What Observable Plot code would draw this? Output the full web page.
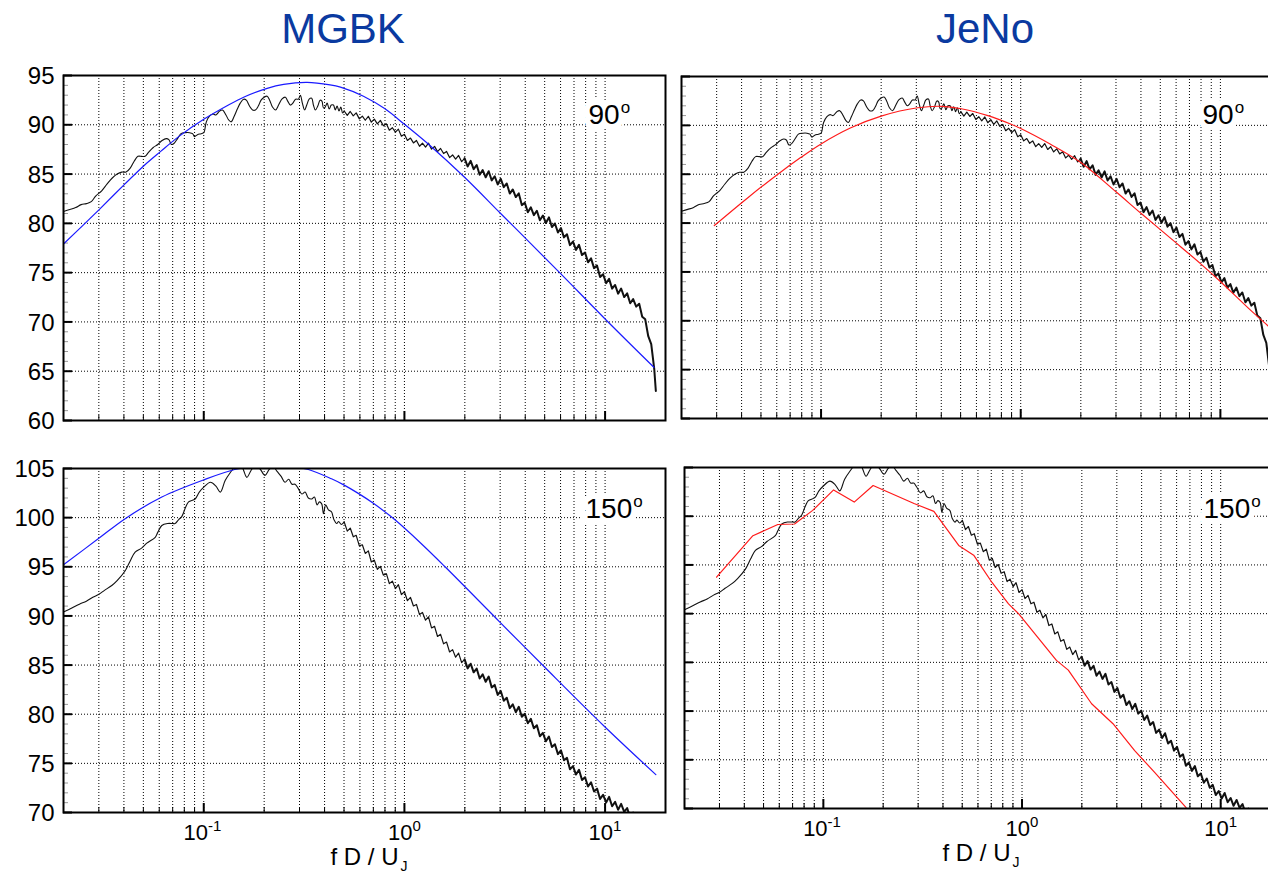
<!DOCTYPE html>
<html><head><meta charset="utf-8">
<script src="https://cdn.jsdelivr.net/npm/d3@7"></script>
<script src="https://cdn.jsdelivr.net/npm/@observablehq/plot@0.6"></script>
<style>
html,body{margin:0;padding:0;background:#fff;overflow:hidden;}
#root{position:relative;width:1268px;height:872px;overflow:hidden;font-family:"Liberation Sans",Arial,sans-serif;}
.panel{position:absolute;}
.panel svg{max-width:none !important;overflow:visible;}
.title{position:absolute;top:8px;font-size:42px;line-height:1;color:#0a3aa0;transform:translateX(-50%);white-space:nowrap;}
</style></head>
<body><div id="root"></div>
<script>
// ---------- data ----------
const titles = ["MGBK", "JeNo"];
const angles = ["90", "150"];
const decades = [0.1, 1, 10];
const decadeExp = ["-1", "0", "1"];
const gridX = [0.02,0.03,0.04,0.05,0.06,0.07,0.08,0.09,0.1,0.2,0.3,0.4,0.5,0.6,0.7,0.8,0.9,1,2,3,4,5,6,7,8,9,10];
const yTicks90 = [60,65,70,75,80,85,90,95];
const yTicks150 = [70,75,80,85,90,95,100,105];

// measured spectrum, 90 deg, low frequencies [f D/Uj, dB]
const black90Lo = [[0.020,81.2],[0.0215,81.4],[0.023,81.6],[0.0245,81.9],[0.026,82.0],[0.0275,82.2],[0.029,82.8],[0.031,83.3],[0.033,84.0],[0.035,84.6],[0.037,85.0],[0.039,85.2],[0.041,85.2],[0.043,85.6],[0.045,86.3],[0.047,86.8],[0.049,86.8],[0.051,86.8],[0.053,87.2],[0.056,87.7],[0.059,88.0],[0.062,88.4],[0.065,88.6],[0.067,88.5],[0.069,88.0],[0.071,88.1],[0.074,88.6],[0.077,89.1],[0.081,89.2],[0.085,89.2],[0.088,89.1],[0.090,88.8],[0.093,89.0],[0.097,89.1],[0.100,89.2],[0.103,90.3],[0.107,90.9],[0.111,91.1],[0.115,91.0],[0.120,91.4],[0.124,91.5],[0.129,91.0],[0.133,90.5],[0.137,90.3],[0.142,90.9],[0.147,91.6],[0.152,92.2],[0.158,92.6],[0.163,92.5],[0.169,91.9],[0.175,91.5],[0.181,91.5],[0.187,91.9],[0.193,92.5],[0.200,92.8],[0.207,92.9],[0.213,92.5],[0.220,91.8],[0.228,91.5],[0.236,92.0],[0.245,92.6],[0.255,92.8],[0.262,92.4],[0.270,92.0],[0.278,92.2],[0.287,92.6],[0.296,92.6],[0.303,93.0],[0.310,92.2],[0.318,91.5],[0.326,92.0],[0.335,92.6],[0.345,92.7],[0.352,92.0],[0.360,91.5],[0.370,91.9],[0.380,92.5],[0.388,92.4],[0.395,91.7],[0.403,91.8],[0.412,92.2],[0.422,91.6],[0.432,92.0],[0.443,92.0],[0.452,91.5],[0.462,91.9],[0.472,91.4],[0.482,91.8],[0.492,91.2]];
// measured spectrum, 150 deg, low frequencies
const black150Lo = [[0.020,90.4],[0.022,90.8],[0.024,91.2],[0.026,91.5],[0.028,91.9],[0.030,92.2],[0.032,92.6],[0.0348,93.1],[0.037,93.6],[0.0406,94.6],[0.043,95.6],[0.0455,96.5],[0.049,96.9],[0.052,97.4],[0.0573,98.0],[0.059,98.5],[0.0618,99.2],[0.066,99.4],[0.070,99.4],[0.072,99.4],[0.075,99.8],[0.0777,100.1],[0.081,101.0],[0.084,101.6],[0.0906,101.9],[0.095,102.6],[0.100,103.1],[0.108,103.6],[0.115,103.2],[0.121,102.6],[0.128,103.8],[0.138,104.8],[0.145,105.4],[0.152,105.6],[0.158,104.8],[0.164,104.1],[0.172,104.8],[0.180,105.3],[0.190,105.0],[0.202,104.3],[0.212,104.9],[0.222,105.2],[0.232,104.7],[0.243,104.2],[0.254,103.6],[0.265,103.9],[0.275,103.4],[0.285,103.4],[0.295,103.0],[0.308,102.4],[0.320,102.6],[0.332,102.0],[0.345,101.9],[0.356,102.1],[0.367,101.3],[0.377,101.6],[0.387,101.4],[0.395,100.4],[0.405,101.3],[0.418,100.8],[0.433,100.6],[0.445,99.8],[0.460,99.4],[0.470,99.6],[0.485,99.3]];
// high-frequency part (noisy), shared frequencies
const freqHi = [0.501,0.519,0.537,0.556,0.575,0.596,0.617,0.638,0.661,0.684,
0.708,0.733,0.759,0.785,0.813,0.841,0.871,0.902,0.933,0.966,
1.000,1.035,1.072,1.109,1.148,1.189,1.230,1.274,1.318,1.365,
1.413,1.462,1.514,1.567,1.622,1.679,1.738,1.799,1.862,1.928,
1.995,2.065,2.138,2.213,2.291,2.371,2.455,2.541,2.630,2.723,
2.818,2.917,3.020,3.126,3.236,3.350,3.467,3.589,3.715,3.846,
3.981,4.121,4.266,4.416,4.571,4.732,4.898,5.070,5.248,5.433,
5.623,5.821,6.026,6.237,6.457,6.683,6.918,7.161,7.413,7.674,
7.943,8.222,8.511,8.810,9.120,9.441,9.772,10.12,10.47,10.84,
11.22,11.61,12.02,12.45,12.88,13.34,13.80,14.29,14.79,15.31,
15.85,16.41,16.98,17.58,17.9];
const lvl90Hi = [91.40,90.95,91.35,90.91,91.21,90.60,90.88,90.46,90.86,90.27,
90.58,90.09,90.45,89.90,90.10,89.45,89.70,89.25,89.56,88.84,
89.03,88.41,88.65,88.16,88.41,87.82,88.13,87.74,88.14,87.53,
87.81,87.28,87.60,87.08,87.30,86.67,86.94,86.52,86.89,86.26,
86.60,85.77,86.34,85.50,85.92,84.93,85.40,84.67,85.29,84.36,
84.78,83.95,84.52,83.67,84.05,83.02,83.44,82.67,83.04,81.85,
82.09,81.12,81.63,80.83,81.28,80.32,80.80,80.03,80.61,79.63,
79.99,79.07,79.53,78.58,78.89,77.79,78.15,77.31,77.82,76.78,
77.05,76.05,76.45,75.46,75.71,74.55,74.84,73.93,74.37,73.38,
73.75,72.87,73.39,72.52,72.90,71.89,72.32,71.55,71.85,70.53,
70.26,68.55,67.75,65.2,63.0];
const lvl150Hi = [99.57,98.63,98.94,98.05,98.20,97.13,97.24,96.36,96.62,95.49,
95.68,94.74,95.04,94.15,94.30,93.29,93.54,92.78,93.18,92.17,
92.46,91.55,91.88,91.01,91.17,90.14,90.35,89.57,89.91,88.78,
88.94,87.91,88.13,87.16,87.34,86.33,86.57,85.80,86.22,85.25,
85.58,84.66,85.14,84.26,84.65,83.63,84.06,83.30,83.83,82.73,
82.98,81.97,82.37,81.37,81.68,80.62,81.01,80.21,80.75,79.74,
80.04,79.08,79.53,78.57,78.87,77.76,78.10,77.24,77.73,76.67,
76.95,75.94,76.33,75.32,75.56,74.39,74.72,73.86,74.35,73.30,
73.59,72.64,73.08,72.13,72.43,71.38,71.80,71.02,71.59,70.64,
71.08,70.28,70.88,70.07,70.45,69.50,70.00,69.30,69.60];
// MGBK predictions
const mgbk90 = [[0.02,77.9],[0.025,79.8],[0.0303,81.45],[0.0405,84.0],[0.05,85.8],[0.061,87.3],[0.075,88.8],[0.1,90.55],[0.13,91.9],[0.16,92.85],[0.207,93.7],[0.25,94.1],[0.327,94.3],[0.426,94.05],[0.48,93.82],[0.625,92.9],[0.8,91.62],[1.0,90.05],[1.34,87.9],[2.0,84.65],[3.0,81.05],[4.05,78.4],[5.97,74.95],[10,70.3],[17.5,65.4]];
const mgbk150 = [[0.02,95.2],[0.030,97.9],[0.0406,99.9],[0.0618,102.1],[0.1,103.85],[0.1426,104.9],[0.18,105.2],[0.22,105.3],[0.27,105.2],[0.332,104.9],[0.433,103.95],[0.501,103.31],[0.589,102.47],[0.70,101.46],[0.891,99.83],[1.2,97.45],[1.585,95.05],[2.98,89.4],[4.99,84.8],[9.93,78.75],[17.9,73.85]];
// JeNo predictions
const jeno90 = [[0.0292,79.75],[0.043,82.6],[0.0594,84.85],[0.079,86.7],[0.1,88.1],[0.141,89.75],[0.2,90.95],[0.305,91.8],[0.4,91.95],[0.504,91.7],[0.685,90.99],[0.895,90.11],[1.0,89.68],[1.41,88.07],[2.0,86.2],[3.0,83.2],[4.0,81.0],[5.9,78.1],[8.0,75.8],[9.9,74.1],[13.8,71.3],[17.6,69.35],[20,68.3]];
const jeno150 = [[0.029,93.74],[0.0442,98.0],[0.059,99.15],[0.0716,99.2],[0.0884,100.6],[0.1126,102.7],[0.143,101.45],[0.178,103.15],[0.286,101.3],[0.36,100.5],[0.48,97.0],[0.571,96.0],[0.706,93.2],[0.855,91.0],[0.96,90.0],[1.49,85.2],[1.71,84.2],[2.24,80.75],[2.87,78.7],[3.69,75.95],[4.65,73.7],[6.7,70.1]];

// measured spectra split into a smooth low part, a noisy mid part and a dense high part
const hi90 = d3.zip(freqHi, lvl90Hi), hi150 = d3.zip(freqHi, lvl150Hi);
const SPLIT = 40; // index in freqHi (~2.0)
const black90Parts = [
  {data: black90Lo.concat(hi90.slice(0, 1)), width: 1.1, curve: "catmull-rom"},
  {data: hi90.slice(0, SPLIT + 1), width: 1.2, curve: "linear"},
  {data: hi90.slice(SPLIT), width: 2.0, curve: "linear"}
];
const black150Parts = [
  {data: black150Lo.concat(hi150.slice(0, 1)), width: 1.1, curve: "catmull-rom"},
  {data: hi150.slice(0, SPLIT + 1), width: 1.2, curve: "linear"},
  {data: hi150.slice(SPLIT), width: 2.0, curve: "linear"}
];

// ---------- drawing ----------
const root = document.getElementById("root");
const FONT = '"Liberation Sans", Arial, sans-serif';
const BLUE = "#1a1aff", RED = "#ff1a1a", INK = "#111";

function makePanel(c) {
  const fw = c.width - c.ml - c.mr, fh = c.height - c.mt - c.mb;
  const [y0, y1] = c.yDomain;
  const minorY = d3.range(y0 + 1, y1).filter(v => v % 5 !== 0);
  const dotted = {stroke: "#000", strokeWidth: 1, strokeDasharray: "1,2"};
  const marks = [
    Plot.ruleX(gridX, dotted),
    Plot.ruleY(c.yTicks.filter(v => v > y0 && v < y1), dotted),
    Plot.tickY(minorY, {stroke: "#999", strokeWidth: 1, insetRight: fw - 5}),
    Plot.tickY(c.yTicks, {stroke: "#000", strokeWidth: 2, insetRight: fw - 9}),
    Plot.tickX(gridX.filter(v => !decades.includes(v)), {stroke: "#000", strokeWidth: 1, insetTop: fh - 5}),
    Plot.tickX(decades, {stroke: "#000", strokeWidth: 2, insetTop: fh - 9})
  ];
  for (const ln of c.lines) {
    marks.push(Plot.line(ln.data, {x: d => d[0], y: d => d[1], stroke: ln.color, strokeWidth: ln.width, curve: ln.curve || "linear", clip: true}));
  }
  const wAngle = 0.556 * 28 * c.angle.length;
  marks.push(Plot.text([c.angle], {frameAnchor: "top-right", textAnchor: "start", lineAnchor: "bottom",
    dx: c.angleDx, dy: c.angleDy, fontSize: 28, fill: "#000", stroke: "#fff", strokeWidth: 12, paintOrder: "stroke"}));
  marks.push(Plot.text(["o"], {frameAnchor: "top-right", textAnchor: "start", lineAnchor: "bottom",
    dx: c.angleDx + wAngle + 1, dy: c.angleDy - 11, fontSize: 17, fill: "#000", stroke: "#fff", strokeWidth: 6, paintOrder: "stroke"}));
  if (c.yLabels) {
    marks.push(Plot.axisY(c.yTicks, {tickSize: 0, tickPadding: 9, fontSize: 24, label: null, dy: 1, tickFormat: d => String(d)}));
  }
  if (c.xLabels) {
    decades.forEach((v, i) => {
      const supW = 0.5 * 15 * decadeExp[i].length + 1;
      const dx = 12.25 - supW / 2;
      marks.push(Plot.text([v], {x: d => d, frameAnchor: "bottom", text: () => "10", textAnchor: "end", lineAnchor: "bottom", dx, dy: 27, fontSize: 22, fill: "#000"}));
      marks.push(Plot.text([v], {x: d => d, frameAnchor: "bottom", text: () => decadeExp[i], textAnchor: "start", lineAnchor: "bottom", dx, dy: 18, fontSize: 15, fill: "#000"}));
    });
    marks.push(Plot.text(["f D / U"], {frameAnchor: "bottom", textAnchor: "end", lineAnchor: "bottom", dx: c.labelDx, dy: 52, fontSize: 24, fill: "#000"}));
    marks.push(Plot.text(["J"], {frameAnchor: "bottom", textAnchor: "start", lineAnchor: "bottom", dx: c.labelDx + 2, dy: 58, fontSize: 14, fill: "#000"}));
  }
  marks.push(Plot.frame({stroke: "#000", strokeWidth: 2}));
  const plot = Plot.plot({
    width: c.width, height: c.height,
    marginTop: c.mt, marginRight: c.mr, marginBottom: c.mb, marginLeft: c.ml,
    style: {fontFamily: FONT, fontSize: "24px", background: "transparent", color: "#000"},
    x: {type: "log", domain: [0.02, 20], axis: null},
    y: c.yLabels ? {domain: c.yDomain} : {domain: c.yDomain, axis: null},
    marks
  });
  const div = document.createElement("div");
  div.className = "panel";
  div.style.left = c.left + "px";
  div.style.top = c.top + "px";
  div.appendChild(plot);
  root.appendChild(div);
}

// titles
[[titles[0], 343], [titles[1], 985]].forEach(([t, x]) => {
  const d = document.createElement("div");
  d.className = "title";
  d.style.left = x + "px";
  d.textContent = t;
  root.appendChild(d);
});

const blackLines = parts => parts.map(p => ({data: p.data, color: INK, width: p.width, curve: p.curve}));

makePanel({left: 0, top: 50, width: 680, height: 380, mt: 25, mr: 15, mb: 10, ml: 63,
  yDomain: [60, 95], yTicks: yTicks90, yLabels: true, xLabels: false,
  lines: [...blackLines(black90Parts), {data: mgbk90, color: BLUE, width: 1.2, curve: "catmull-rom"}],
  angle: angles[0], angleDx: -77, angleDy: 48});
makePanel({left: 670, top: 50, width: 625, height: 380, mt: 26, mr: 15, mb: 12, ml: 11,
  yDomain: [60, 95], yTicks: yTicks90, yLabels: false, xLabels: false,
  lines: [...blackLines(black90Parts), {data: jeno90, color: RED, width: 1.2, curve: "catmull-rom"}],
  angle: angles[0], angleDx: -78, angleDy: 47});
makePanel({left: 0, top: 440, width: 680, height: 432, mt: 28, mr: 15, mb: 60, ml: 63,
  yDomain: [70, 105], yTicks: yTicks150, yLabels: true, xLabels: true, labelDx: 34,
  lines: [...blackLines(black150Parts), {data: mgbk150, color: BLUE, width: 1.2, curve: "catmull-rom"}],
  angle: angles[1], angleDx: -80, angleDy: 49});
makePanel({left: 670, top: 440, width: 625, height: 432, mt: 27, mr: 15, mb: 64, ml: 14,
  yDomain: [70, 105], yTicks: yTicks150, yLabels: false, xLabels: true, labelDx: 28,
  lines: [...blackLines(black150Parts), {data: jeno150, color: RED, width: 1.2, curve: "linear"}],
  angle: angles[1], angleDx: -77, angleDy: 50});
</script>
</body></html>
